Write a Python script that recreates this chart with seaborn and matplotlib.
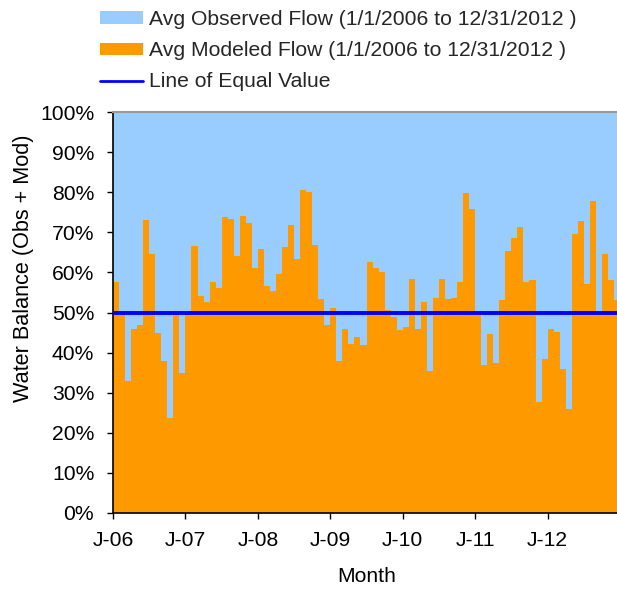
import numpy as np
import pandas as pd
import matplotlib
matplotlib.use("Agg")
import matplotlib.pyplot as plt
import seaborn as sns
from matplotlib.patches import Patch
from matplotlib.lines import Line2D
from matplotlib.transforms import blended_transform_factory

# Modeled share of (Obs + Mod), percent, monthly Jan-2006 .. Dec-2012
modeled_pct = [
    57.5, 49.4, 33.0, 45.8, 46.9, 73.1, 64.7, 45.0, 38.0, 23.8, 49.6, 35.0,   # 2006
    50.4, 66.5, 54.0, 52.5, 57.6, 56.2, 73.9, 73.3, 64.2, 74.1, 72.3, 61.2,   # 2007
    65.9, 56.7, 55.3, 59.6, 66.4, 71.7, 63.4, 80.6, 80.1, 66.9, 53.4, 46.8,   # 2008
    51.2, 38.0, 45.8, 42.1, 43.8, 41.8, 62.5, 61.0, 60.0, 50.7, 49.0, 45.6,   # 2009
    46.4, 58.4, 46.0, 52.7, 35.3, 53.7, 58.3, 53.4, 53.7, 57.6, 79.7, 75.9,   # 2010
    49.3, 36.8, 44.6, 37.3, 53.2, 65.4, 68.7, 71.3, 57.7, 58.0, 27.7, 38.5,   # 2011
    46.0, 45.2, 36.0, 26.0, 69.7, 72.8, 57.2, 77.7, 50.1, 64.5, 58.1, 53.2,   # 2012
]
tick_labels = ["J-06", "J-07", "J-08", "J-09", "J-10", "J-11", "J-12"]
ytick_vals = [0, 10, 20, 30, 40, 50, 60, 70, 80, 90, 100]
obs_label = "Avg Observed Flow (1/1/2006 to 12/31/2012 )"
mod_label = "Avg Modeled Flow (1/1/2006 to 12/31/2012 )"
line_label = "Line of Equal Value"
equal_value = 50

df = pd.DataFrame({
    "month": np.arange(len(modeled_pct)) + 0.5,
    "modeled": modeled_pct,
})
df["total"] = 100.0

sns.set_theme(style="white")
plt.rcParams["font.family"] = ["Liberation Sans", "DejaVu Sans"]

FS = 15.2
W, H = 617, 589
fig = plt.figure(figsize=(W / 100, H / 100), dpi=100)
left, right, top, bottom = 113, 620, 112, 513
ax = fig.add_axes([left / W, (H - bottom) / H, (right - left) / W, (bottom - top) / H])

c_obs = "#99CCFF"
c_mod = "#FF9900"

sns.barplot(data=df, x="month", y="total", native_scale=True, width=1.0,
            color=c_obs, saturation=1, linewidth=0, ax=ax)
sns.barplot(data=df, x="month", y="modeled", native_scale=True, width=1.0,
            color=c_mod, saturation=1, linewidth=0, ax=ax)
ax.axhline(equal_value, color="#0000FF", lw=2.8, zorder=5)

ax.set_xlim(0, len(modeled_pct))
ax.set_ylim(0, 100)
ax.set_xticks(np.arange(0, len(modeled_pct), 12))
ax.set_xticklabels(tick_labels)
ax.set_yticks(ytick_vals)
ax.set_yticklabels([f"{v}%" for v in ytick_vals])
ax.tick_params(axis="both", labelsize=FS, colors="black", direction="out",
               length=4.5, width=1, bottom=True, left=True)
ax.tick_params(axis="x", pad=8.5)
ax.tick_params(axis="y", pad=9)

for s in ["left", "bottom"]:
    ax.spines[s].set_color("black")
    ax.spines[s].set_linewidth(1.2)
ax.spines["top"].set_color("#999999")
ax.spines["top"].set_linewidth(1.5)
ax.spines["right"].set_visible(False)

ax.set_xlabel("Month", fontsize=FS, labelpad=12.5, color="black")
ax.set_ylabel("Water Balance (Obs + Mod)", fontsize=15.6, color="black")
ax.yaxis.set_label_coords(34 / W, 0.611,
                          transform=blended_transform_factory(fig.transFigure, ax.transAxes))

handles = [
    Patch(facecolor=c_obs, edgecolor="none", label=obs_label),
    Patch(facecolor=c_mod, edgecolor="none", label=mod_label),
    Line2D([0], [0], color="#0000FF", lw=2, label=line_label),
]
fig.legend(handles=handles, loc="upper left", bbox_to_anchor=(100 / W, 1 - 10 / H),
           frameon=False, fontsize=FS, handlelength=2.03, handleheight=0.53,
           handletextpad=0.27, labelspacing=0.58, borderpad=0, borderaxespad=0)

fig.savefig("out.png", dpi=100)
